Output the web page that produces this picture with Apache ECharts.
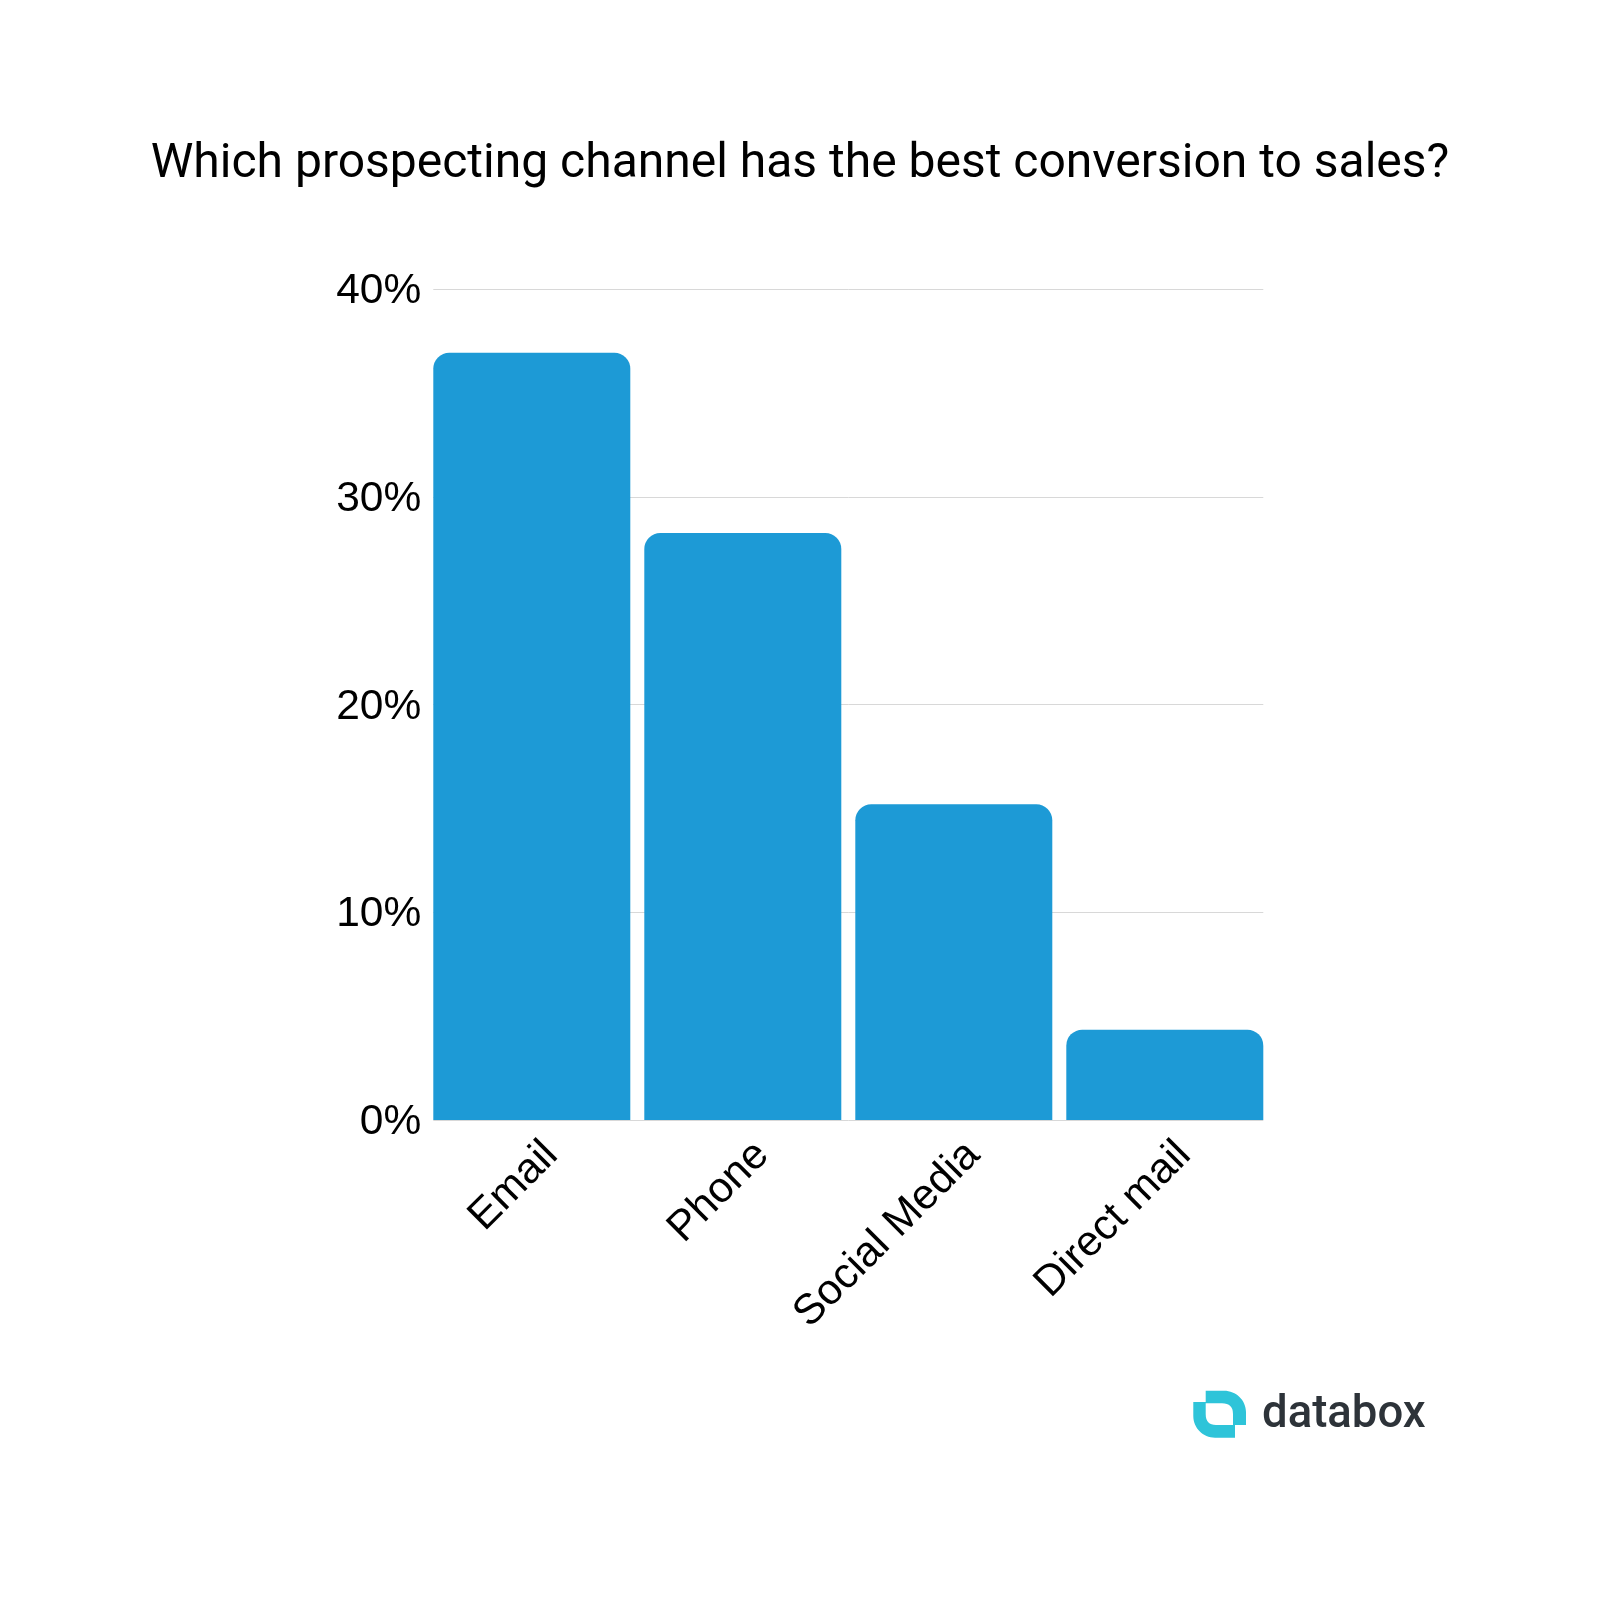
<!DOCTYPE html>
<html><head><meta charset="utf-8">
<style>html,body{margin:0;padding:0;background:#fff}#c{width:1600px;height:1600px}</style>
<script src="https://cdn.jsdelivr.net/npm/echarts@6/dist/echarts.min.js"></script>
</head><body><div id="c"></div>
<script>
const titleText = "Which prospecting channel has the best conversion to sales?";
const categories = ["Email", "Phone", "Social Media", "Direct mail"];
const values = [36.93, 28.25, 15.2, 4.35];
const yTicks = [0, 10, 20, 30, 40];
const brand = "databox";

echarts.graphic.registerShape('logoMark', echarts.graphic.extendPath(
  'M1205.7 1390.7 H1224 C1236 1390.7 1246 1400 1246 1412 V1425 H1235 V1437.7 H1215 C1203 1437.7 1193.3 1428 1193.3 1416 V1402 H1205.7 Z M1205.7 1403.3 V1414 Q1205.7 1425 1216 1425 H1233 V1414 Q1233 1403.3 1222 1403.3 Z', {}));

const chart = echarts.init(document.getElementById('c'), null, {renderer:'canvas', width:1600, height:1600});
const sans = '"Liberation Sans", Arial, sans-serif';
chart.setOption({
  animation:false,
  backgroundColor:'#fff',
  title:{text:titleText,left:'center',top:141,padding:0,
    textStyle:{fontFamily:'Roboto',fontSize:48,fontWeight:400,color:'#000'}},
  grid:[
    {left:426.3,top:289,width:844,height:831},
    {left:433.3,top:289,width:830,height:831}
  ],
  xAxis:[
    {gridIndex:0,type:'category',data:categories,
      axisLine:{show:false},axisTick:{show:false},
      axisLabel:{rotate:45,interval:0,margin:9,verticalAlign:'top',lineHeight:55,fontFamily:sans,fontSize:42.5,color:'#000'}},
    {gridIndex:1,type:'category',data:categories,show:false}
  ],
  yAxis:[
    {gridIndex:0,type:'value',min:0,max:yTicks[yTicks.length-1],interval:10,show:false},
    {gridIndex:1,type:'value',min:0,max:yTicks[yTicks.length-1],interval:10,
      axisLine:{show:false},axisTick:{show:false},
      splitLine:{show:true,lineStyle:{color:'#d8d8d8',width:1}},
      axisLabel:{margin:12,verticalAlign:'top',lineHeight:5,fontFamily:sans,fontSize:42.5,color:'#000',formatter:'{value}%'}}
  ],
  series:[{type:'bar',xAxisIndex:0,yAxisIndex:0,data:values,barWidth:197,
    itemStyle:{color:'#1d9ad6',borderRadius:[16,16,0,0]}}],
  graphic:[
    {type:'logoMark',silent:true,shape:{},
     style:{fill:'#2ec4d9'}},
    {type:'text',silent:true,left:1262,top:1393,
     style:{text:brand,fontFamily:'Roboto',fontWeight:500,fontSize:45.5,fill:'#2d3339'}}
  ]
});
</script></body></html>
